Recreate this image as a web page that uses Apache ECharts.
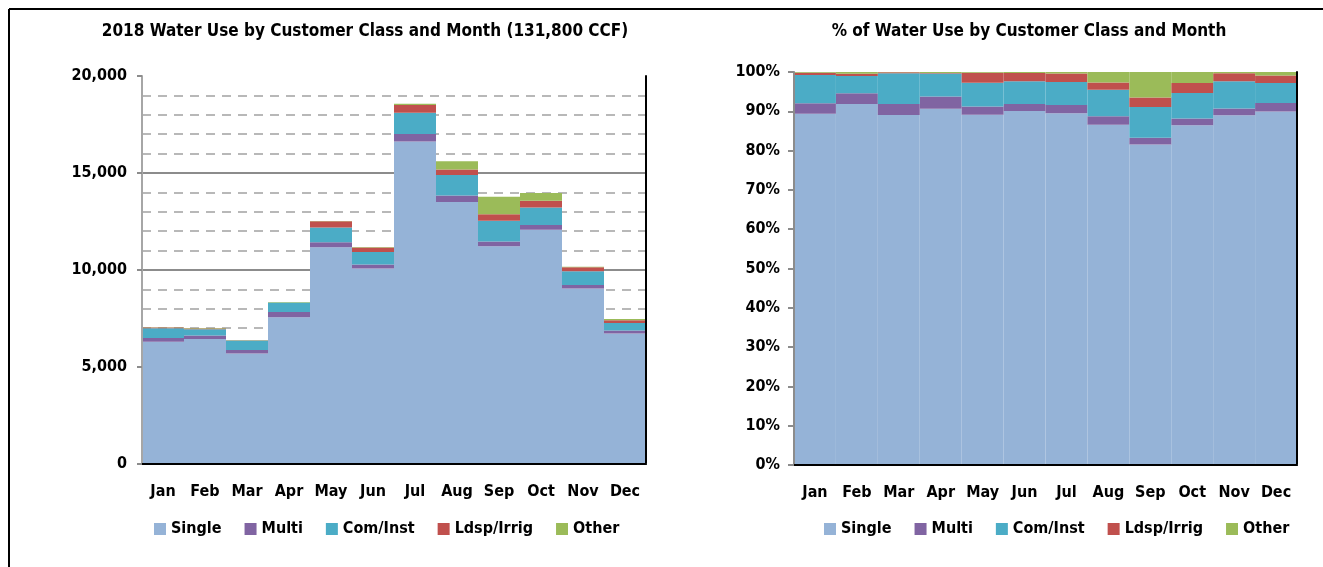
<!DOCTYPE html>
<html>
<head>
<meta charset="utf-8">
<title>Water Use by Customer Class</title>
<script src="https://cdn.jsdelivr.net/npm/echarts/dist/echarts.min.js"></script>
<style>
	html, body { margin: 0; padding: 0; background: #fff; }
	#chart { width: 1323px; height: 567px; }
</style>
</head>
<body>
<div id="chart"></div>
<script>
// months and water use (CCF) by customer class
var months = ['Jan', 'Feb', 'Mar', 'Apr', 'May', 'Jun', 'Jul', 'Aug', 'Sep', 'Oct', 'Nov', 'Dec'];
var classNames = ['Single', 'Multi', 'Com/Inst', 'Ldsp/Irrig', 'Other'];
var classColors = ['#95b3d7', '#8064a2', '#4bacc6', '#c0504d', '#9bbb59'];

var single = [6300, 6440, 5690, 7570, 11170, 10080, 16620, 13510, 11230, 12075, 9050, 6725];
var multi  = [190, 190, 180, 260, 260, 200, 390, 330, 240, 245, 175, 160];
var comInst = [505, 310, 500, 490, 760, 650, 1090, 1060, 1075, 905, 705, 380];
var ldspIrrig = [40, 40, 15, 10, 320, 230, 410, 285, 330, 350, 210, 145];
var other = [15, 30, 5, 20, 20, 30, 65, 415, 895, 395, 30, 65];

var totalTitle = '2018 Water Use by Customer Class and Month (131,800 CCF)';
var pctTitle = '% of Water Use by Customer Class and Month';

var classData = [single, multi, comInst, ldspIrrig, other];

// monthly totals, used to turn each class into a share of the month
var totals = months.map(function(m, i) {
	return classData.reduce(function(s, arr) { return s + arr[i]; }, 0);
});

var font = '"DejaVu Sans Condensed", "Liberation Sans Narrow", sans-serif';
var labelStyle = { color: '#000', fontFamily: font, fontWeight: 'bold', fontSize: 16 };

var myChart = echarts.init(document.getElementById('chart'));

var series = [];
classData.forEach(function(arr, k) {
	// left: absolute CCF
	series.push({
		name: classNames[k],
		type: 'bar',
		stack: 'ccf',
		xAxisIndex: 0,
		yAxisIndex: 0,
		barCategoryGap: '0%',
		itemStyle: { color: classColors[k] },
		data: arr
	});
});
classData.forEach(function(arr, k) {
	// right: % of the month
	series.push({
		name: classNames[k],
		type: 'bar',
		stack: 'pct',
		xAxisIndex: 2,
		yAxisIndex: 3,
		barCategoryGap: '0%',
		itemStyle: { color: classColors[k] },
		data: arr.map(function(v, i) { return v / totals[i] * 100; })
	});
});

var grayLine = { lineStyle: { color: '#8c8c8c', width: 2 } };
var blackLine = { show: true, lineStyle: { color: '#000', width: 2 } };
var titleStyle = { color: '#000', fontFamily: font, fontWeight: 'bold', fontSize: 17 };

var option = {
	animation: false,
	backgroundColor: '#fff',
	title: [{
		text: totalTitle,
		left: 365,
		top: 23,
		padding: 0,
		textAlign: 'center',
		textStyle: titleStyle
	}, {
		text: pctTitle,
		left: 1029,
		top: 23,
		padding: 0,
		textAlign: 'center',
		textStyle: titleStyle
	}],
	legend: [{
		data: classNames,
		left: 154,
		top: 521,
		padding: 0,
		itemWidth: 12,
		itemHeight: 12,
		itemGap: 23,
		icon: 'rect',
		textStyle: labelStyle
	}, {
		data: classNames,
		left: 824,
		top: 521,
		padding: 0,
		itemWidth: 12,
		itemHeight: 12,
		itemGap: 23,
		icon: 'rect',
		textStyle: labelStyle
	}],
	grid: [
		{ left: 142, right: 677, top: 76, bottom: 103, outerBoundsMode: 'none' },
		{ left: 794, right: 26, top: 72, bottom: 102, outerBoundsMode: 'none' }
	],
	xAxis: [{
		type: 'category', gridIndex: 0, position: 'bottom', data: months, z: 10,
		axisLine: grayLine,
		axisTick: { length: 5, lineStyle: { color: '#8c8c8c', width: 2 } },
		axisLabel: Object.assign({ margin: 20, interval: 0 }, labelStyle),
		splitLine: { show: false }
	}, {
		// black frame on top
		type: 'category', gridIndex: 0, position: 'top', data: months, z: 10,
		axisLine: blackLine, axisTick: { show: false }, axisLabel: { show: false }
	}, {
		type: 'category', gridIndex: 1, position: 'bottom', data: months, z: 10,
		axisLine: grayLine,
		axisTick: { length: 5, lineStyle: { color: '#8c8c8c', width: 2 } },
		axisLabel: Object.assign({ margin: 20, interval: 0 }, labelStyle),
		splitLine: { show: false }
	}, {
		type: 'category', gridIndex: 1, position: 'top', data: months, z: 10,
		axisLine: blackLine, axisTick: { show: false }, axisLabel: { show: false }
	}],
	yAxis: [{
		type: 'value', gridIndex: 0, position: 'left', min: 0, max: 20000, interval: 5000, z: 10,
		axisLine: { show: true, lineStyle: { color: '#a6a6a6', width: 2 } },
		axisTick: { show: true, length: 5, lineStyle: { color: '#8c8c8c', width: 2 } },
		axisLabel: Object.assign({
			margin: 15,
			formatter: function(v) { return v.toLocaleString('en-US'); }
		}, labelStyle),
		splitLine: { show: false }
	}, {
		// gridlines only, kept under the bars
		type: 'value', gridIndex: 0, position: 'left', min: 0, max: 20000, interval: 5000, z: 0,
		axisLine: { show: false }, axisTick: { show: false }, axisLabel: { show: false },
		splitLine: { show: true, showMinLine: false, showMaxLine: false, lineStyle: { color: '#8c8c8c', width: 2 } },
		minorTick: { show: false, splitNumber: 5 },
		minorSplitLine: { show: true, lineStyle: { color: '#b8b8b8', width: 2, type: [9, 7] } }
	}, {
		type: 'value', gridIndex: 0, position: 'right', min: 0, max: 20000, z: 10,
		axisLine: blackLine, axisTick: { show: false }, axisLabel: { show: false }, splitLine: { show: false }
	}, {
		type: 'value', gridIndex: 1, position: 'left', min: 0, max: 100, interval: 10, z: 10,
		axisLine: { show: true, lineStyle: { color: '#8c8c8c', width: 2 } },
		axisTick: { show: true, length: 6, lineStyle: { color: '#8c8c8c', width: 2 } },
		axisLabel: Object.assign({ margin: 14, formatter: '{value}%' }, labelStyle),
		splitLine: { show: false }
	}, {
		type: 'value', gridIndex: 1, position: 'right', min: 0, max: 100, z: 10,
		axisLine: blackLine, axisTick: { show: false }, axisLabel: { show: false }, splitLine: { show: false }
	}],
	// frame around the sheet area (top and left edges)
	graphic: [{
		type: 'line', shape: { x1: 9, y1: 9, x2: 1323, y2: 9 },
		style: { stroke: '#000', lineWidth: 2 }
	}, {
		type: 'line', shape: { x1: 9, y1: 9, x2: 9, y2: 567 },
		style: { stroke: '#000', lineWidth: 2 }
	}],
	series: series
};

myChart.setOption(option);
window.addEventListener('resize', function() {
	myChart.resize();
});
</script>
</body>
</html>
